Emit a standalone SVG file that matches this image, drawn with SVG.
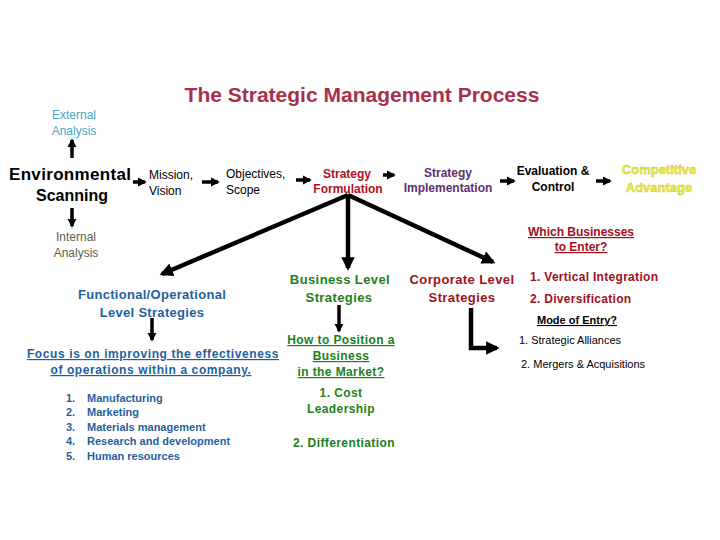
<svg xmlns="http://www.w3.org/2000/svg" width="720" height="540" viewBox="0 0 720 540">
<defs>
<marker id="ah" viewBox="0 0 10 10" refX="8" refY="5" markerWidth="3" markerHeight="3" orient="auto"><path d="M0,0 L10,5 L0,10 z" fill="#000"/></marker>
<marker id="ah2" viewBox="0 0 10 10" refX="8" refY="5" markerWidth="2.6" markerHeight="2.6" orient="auto"><path d="M0,0 L10,5 L0,10 z" fill="#000"/></marker>
</defs>
<style>
text{font-family:"Liberation Sans",Arial,sans-serif;}
.b{font-weight:bold}
.c{text-anchor:middle}
.u{text-decoration:underline}
.ln{stroke:#000;fill:none}
.big{stroke-width:4.5}
.sm{stroke-width:3.5}
</style>
<rect width="720" height="540" fill="#fff"/>
<text x="362" y="102" class="b c" font-size="21" fill="#a8304a">The Strategic Management Process</text>
<g id="connectors">
<path class="ln sm" d="M72,158 V140" marker-end="url(#ah2)"/>
<path class="ln sm" d="M72,208 V226" marker-end="url(#ah2)"/>
<path class="ln sm" d="M133,182 H145" marker-end="url(#ah2)"/>
<path class="ln sm" d="M202,182 H218" marker-end="url(#ah2)"/>
<path class="ln sm" d="M296,180 H310" marker-end="url(#ah2)"/>
<path class="ln sm" d="M383,175 H394" marker-end="url(#ah2)"/>
<path class="ln sm" d="M500,181 H514" marker-end="url(#ah2)"/>
<path class="ln sm" d="M596,181 H610" marker-end="url(#ah2)"/>
<path class="ln big" d="M348,195 L162,274" marker-end="url(#ah)"/>
<path class="ln big" d="M348,195 V268" marker-end="url(#ah)"/>
<path class="ln big" d="M348,195 L493,262" marker-end="url(#ah)"/>
<path class="ln sm" d="M152,318 V340" marker-end="url(#ah2)"/>
<path class="ln sm" d="M339,305 V331" marker-end="url(#ah2)"/>
<path class="ln big" d="M471,308 V348 H497" marker-end="url(#ah)"/>
</g>
<g id="external"><text x="74" y="119" class="c" font-size="12" fill="#40a8c8">External</text><text x="74" y="135" class="c" font-size="12" fill="#40a8c8">Analysis</text></g>
<g id="internal"><text x="76" y="241" class="c" font-size="12" fill="#606048">Internal</text><text x="76" y="257" class="c" font-size="12" fill="#606048">Analysis</text></g>
<g id="env"><text x="70" y="180" class="b c" font-size="17" textLength="122">Environmental</text><text x="72" y="201" class="b c" font-size="16">Scanning</text></g>
<g id="mission"><text x="149" y="179" font-size="12">Mission,</text><text x="149" y="195" font-size="12">Vision</text></g>
<g id="objectives"><text x="226" y="178" font-size="12">Objectives,</text><text x="226" y="194" font-size="12">Scope</text></g>
<g id="formulation"><text x="347" y="178" class="b c" font-size="12" fill="#b01020">Strategy</text><text x="348" y="193" class="b c" font-size="12" fill="#b01020">Formulation</text></g>
<g id="implementation"><text x="448" y="177" class="b c" font-size="12" fill="#603070">Strategy</text><text x="448" y="192" class="b c" font-size="12" fill="#603070">Implementation</text></g>
<g id="evaluation"><text x="553" y="175" class="b c" font-size="12">Evaluation &amp;</text><text x="553" y="191" class="b c" font-size="12">Control</text></g>
<g id="advantage"><text x="659" y="174" class="b c" font-size="13" fill="#f4f040" stroke="#c8c020" stroke-width="0.4">Competitive</text><text x="659" y="192" class="b c" font-size="13" fill="#f4f040" stroke="#c8c020" stroke-width="0.4">Advantage</text></g>
<g id="which"><text x="581" y="236" class="b c u" font-size="12" fill="#a01020">Which Businesses</text><text x="581" y="251" class="b c u" font-size="12" fill="#a01020">to Enter?</text></g>
<g id="functional" fill="#1f5f9f"><text x="152" y="299" class="b c" font-size="13" letter-spacing="0.3">Functional/Operational</text><text x="152" y="317" class="b c" font-size="13" letter-spacing="0.3">Level Strategies</text></g>
<g id="focus" fill="#1f5f9f"><text x="153" y="358" class="b c u" font-size="12" letter-spacing="0.6">Focus is on improving the effectiveness </text><text x="151" y="374" class="b c u" font-size="12" letter-spacing="0.6">of operations within a company.</text></g>
<g id="list" fill="#1f5f9f" font-size="11" class="b">
<text x="66" y="402" class="b">1.</text><text x="87" y="402" class="b">Manufacturing</text>
<text x="66" y="416" class="b">2.</text><text x="87" y="416" class="b">Marketing</text>
<text x="66" y="431" class="b">3.</text><text x="87" y="431" class="b">Materials management</text>
<text x="66" y="445" class="b">4.</text><text x="87" y="445" class="b">Research and development</text>
<text x="66" y="460" class="b">5.</text><text x="87" y="460" class="b">Human resources</text>
</g>
<g id="business" fill="#208020"><text x="340" y="284" class="b c" font-size="13" letter-spacing="0.4">Business Level</text><text x="339" y="302" class="b c" font-size="13" letter-spacing="0.4">Strategies</text></g>
<g id="position" fill="#208020"><text x="341" y="344" class="b c u" font-size="12" letter-spacing="0.4">How to Position a</text><text x="341" y="360" class="b c u" font-size="12" letter-spacing="0.4">Business</text><text x="341" y="376" class="b c u" font-size="12" letter-spacing="0.4">in the Market?</text></g>
<g id="cost" fill="#208020"><text x="341" y="397" class="b c" font-size="12" letter-spacing="0.4">1. Cost</text><text x="341" y="413" class="b c" font-size="12" letter-spacing="0.4">Leadership</text></g>
<g id="diff" fill="#208020"><text x="344" y="447" class="b c" font-size="12" letter-spacing="0.4">2. Differentiation</text></g>
<g id="corporate" fill="#a01020"><text x="462" y="284" class="b c" font-size="13" letter-spacing="0.4">Corporate Level</text><text x="462" y="302" class="b c" font-size="13" letter-spacing="0.4">Strategies</text></g>
<g id="vertical" fill="#a01020"><text x="530" y="281" class="b" font-size="12" letter-spacing="0.3">1. Vertical Integration</text><text x="530" y="303" class="b" font-size="12" letter-spacing="0.3">2.  Diversification</text></g>
<g id="mode"><text x="577" y="324" class="b c u" font-size="11">Mode of Entry?</text><text x="519" y="344" font-size="11">1.  Strategic Alliances</text><text x="521" y="368" font-size="11">2.  Mergers &amp; Acquisitions</text></g>
</svg>
